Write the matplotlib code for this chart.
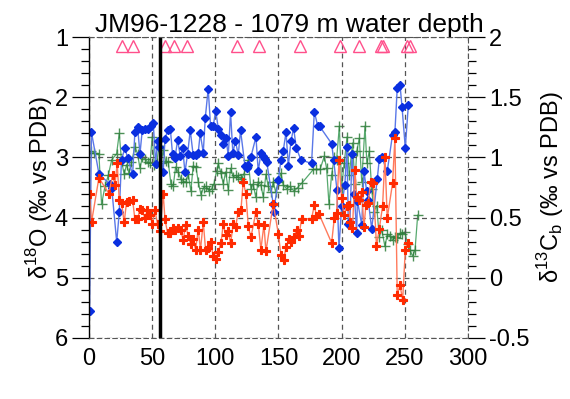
import matplotlib
matplotlib.use("Agg")
import matplotlib.pyplot as plt
from matplotlib.ticker import MultipleLocator

plt.rcParams['font.family'] = ['Liberation Sans', 'DejaVu Sans']
plt.rcParams['mathtext.fontset'] = 'custom'
plt.rcParams['mathtext.rm'] = 'Liberation Sans'

# blue: d18O (left axis)
blue_x = [0.5, 2, 8, 16.5, 18, 22, 24, 25.8, 28.5, 30.6, 34.6, 36.4, 38.5, 40.4, 42.2, 44.3, 47, 48.8,
          50.9, 52.8, 54.3, 55.7, 58.8, 60.2, 62.3, 64.4, 66.2, 68.1, 70.2, 72.3, 74.2, 76, 78.1, 80.2,
          82.5, 84.7, 86.5, 88.1, 90.5, 92.1, 94.4, 96.3, 98.4, 100.3, 102.4, 104.5, 106.3, 108.4, 110.3,
          112.1, 113.9, 116, 118.2, 120, 123.5, 124.8, 126.1, 128.2, 132.2, 134, 136.1, 138, 139.3, 140.7,
          145.9, 146.2, 149.9, 152, 153.8, 156, 157.8, 159.9, 162, 164.1, 167.8, 176.2, 178.4, 181, 182.5,
          192.1, 193.7, 196.3, 197.9, 200, 202.6, 204.2, 205.3, 206.6, 208.2, 210, 211.9, 212.5, 215.9,
          217.7, 219.8, 221, 223.8, 228.2, 229.8, 231.6, 236.1, 240.3, 242.2, 244, 246.2, 247.8, 250.4, 252.8]
blue_y = [5.55, 2.58, 3.28, 3.44, 3.5, 4.41, 3.91, 3.04, 2.84, 3.01, 3.28, 2.57, 2.49, 2.94, 2.55, 2.53, 2.52, 2.47,
          2.42, 3.11, 2.73, 2.82, 3.24, 2.69, 2.55, 2.52, 2.95, 3.01, 2.71, 2.98, 2.84, 3.25, 2.94, 2.55,
          2.96, 2.96, 2.92, 2.6, 2.92, 2.34, 1.86, 2.48, 2.48, 2.22, 2.52, 2.63, 2.77, 2.67, 2.97,
          2.25, 2.92, 2.73, 2.96, 2.55, 3.14, 3.18, 3.13, 2.99, 2.66, 3.23, 2.93, 2.98, 3.02, 3.07,
          3.78, 3.9, 3.37, 3.04, 2.89, 2.58, 3.14, 2.73, 2.51, 2.84, 3.04, 3.1, 2.24, 2.47, 2.48,
          2.77, 3.04, 3.54, 4.51, 3.81, 3.45, 2.82, 4.1, 4.08, 2.95, 3.6, 4.25, 3.72, 4.12,
          3.23, 3.56, 3.7, 4.19, 3.36, 3.03, 2.99, 3.23, 2.62, 2.57, 1.85, 1.79, 2.16, 2.84, 2.13]

# red: d18O (left axis)
red_x = [0.5, 2.1, 7.9, 15.8, 18.7, 20.6, 22.4, 24, 25.8, 27.9, 29.8, 32, 34.6, 36.4, 38.5, 40.4, 42.2,
         44.3, 46.2, 48.2, 50.1, 52.2, 54.3, 56.2, 58.8, 60.2, 62.3, 64.2, 66.2, 68.5, 70.7, 72.6, 74.6,
         76.5, 78.6, 80.7, 82.5, 84.4, 86.5, 88.3, 90.5, 92.3, 94.4, 96.3, 98.4, 100.3, 102.4, 104.5,
         106.3, 108.2, 110.3, 112.1, 114.2, 116.1, 118.2, 120.3, 122.1, 124.3, 126.1, 128.2, 132.2, 134,
         136.1, 138.5, 140.1, 145.9, 149.9, 152, 154.1, 156, 158.3, 160.2, 162.3, 164.3, 166.2, 168.3,
         176.2, 178.4, 180, 182.1, 192.1, 194.2, 196, 197.9, 200, 201.8, 204, 206, 206.6, 208.6, 210.6,
         211.9, 213.9, 215.9, 217.7, 219.2, 221.1, 223, 225, 227.6, 229.8, 232.4, 234.3, 236.1, 240.3,
         242.2, 244, 246.2, 248.3, 250.4, 252.2]
red_y = [3.61, 4.07, 3.34, 3.6, 3.29, 3.45, 3.1, 3.71, 3.75, 4.08, 3.74, 3.72, 3.71, 4.03, 4.03, 3.85, 3.88,
         4.01, 3.88, 3.95, 4.1, 3.88, 4.1, 4.23, 3.61, 4.03, 4.26, 4.26, 4.18, 4.2, 4.18, 4.2, 4.37,
         4.12, 4.31, 4.44, 4.36, 4.53, 4.2, 4.53, 4.07, 4.53, 4.5, 4.4, 4.64, 4.68, 4.57, 4.42,
         4.11, 4.29, 4.23, 4.43, 4.11, 4.15, 3.9, 3.88, 3.4, 3.61, 4.14, 4.33, 3.9, 4.1,
         4.53, 4.12, 4.56, 3.77, 4.27, 4.62, 4.71, 4.49, 4.36, 4.41, 4.32, 4.21, 4.31, 4.02,
         4.02, 3.79, 3.97, 3.94, 4.42, 4.01, 3.93, 3.04, 3.68, 3.96, 3.8, 3.79, 4.08, 4.18, 3.21,
         3.65, 3.7, 3.57, 4.16, 3.79, 3.76, 3.4, 3.42, 4.47, 4.19, 3.81, 2.99, 4.01, 3.43,
         2.68, 5.29, 5.12, 5.37, 4.54, 4.42]

# green: d13C benthic (right axis)
green_x = [0, 2, 4, 7.9, 10, 12.7, 15.3, 18, 21.9, 24, 25.8, 27.9, 29.8, 31.7, 33.7, 36.4, 38.5, 40.4,
           42.2, 44.3, 46.4, 48.3, 50.1, 51.7, 53.6, 55.4, 57, 58.8, 60.7, 62.8, 64.9, 66.7, 68.6, 70.7,
           72.8, 74.6, 76.8, 78.6, 80.7, 82.5, 84.7, 86.5, 88.7, 90.8, 92.9, 95, 97.1, 99, 101, 102.4,
           104.5, 106.3, 108.2, 110.3, 112.1, 114.2, 116.1, 118.2, 120.3, 122.5, 124.8, 126.1, 128.2, 130,
           132, 134, 136.1, 138, 140.1, 141.9, 144.1, 145.9, 147.8, 149.9, 152, 153.8, 156.5, 159.1,
           162.5, 165.1, 168.8, 177.6, 179.7, 182.9, 186.3, 188.1, 190, 192, 194.2, 196, 198.2, 200, 202,
           204.3, 206, 208.7, 210.5, 212, 214, 215.9, 218.5, 220, 221.9, 223.8, 225.6, 227.7, 229.8,
           231.7, 234.3, 236.1, 238, 240.3, 242, 244, 246.2, 248, 250.1, 252.2, 254.1, 256.2, 258.1, 260.2]
green_y = [1.04, 1.05, 1.04, 1.03, 0.61, 0.76, 0.85, 0.98, 1.03, 1.2, 0.97, 0.86, 0.94, 0.87, 0.96, 1.09, 1.03, 0.91,
           1.0, 0.99, 0.96, 0.95, 1.17, 0.94, 0.95, 1.09, 0.95, 1.06, 0.97, 0.96, 0.78, 0.76, 0.92, 0.88,
           0.82, 0.8, 0.8, 0.86, 0.72, 0.93, 0.92, 0.8, 0.69, 0.75, 0.76, 0.72, 0.74, 0.78, 0.89, 0.95,
           0.87, 0.78, 0.88, 0.73, 0.91, 0.84, 0.85, 0.84, 0.82, 0.86, 0.92, 0.98, 0.74, 0.78,
           0.67, 0.8, 0.77, 0.67, 0.86, 0.76, 0.71, 0.8, 0.71, 0.8, 0.87, 0.77, 0.74, 0.76,
           0.72, 0.75, 0.79, 0.9, 0.9, 0.9, 1.01, 0.91, 0.61, 0.85, 1.0, 0.98, 1.26, 0.75, 0.95,
           1.17, 0.85, 1.12, 0.78, 1.05, 1.16, 0.8, 1.26, 0.95, 1.05, 0.74, 0.55, 0.6, 0.34,
           0.4, 0.26, 0.36, 0.35, 0.31, 0.34, 0.33, 0.37, 0.36, 0.38, 0.28, 0.23, 0.18, 0.23, 0.52]

# triangles along the top
tri_x = [26, 35, 60, 67, 78, 117, 135, 167, 199, 214, 231, 233, 252, 254]
tri_y = [1.15] * len(tri_x)
event_x = 56.5

fig = plt.figure(figsize=(5.7, 3.99), dpi=100)
ax = fig.add_axes([0.156, 0.153, 0.665, 0.754])
ax2 = ax.twinx()
ax2.set_zorder(ax.get_zorder() - 1)
ax.patch.set_visible(False)

ax2.plot(green_x, green_y, color='#3a9a55', lw=0.9, alpha=0.85, marker='+', ms=6.5, mew=1.0, mec='#2e7d3a')
ax.plot(blue_x, blue_y, color='#5a78e8', lw=1.0, marker='D', ms=4.2, mfc='#0a2fe0', mec='#0a2fe0')
ax.plot(red_x, red_y, color='#ff7a5c', lw=1.0, marker='P', ms=6, mfc='#ff2a00', mec='#ff2a00', mew=0.8)
ax.plot(tri_x, tri_y, ls='none', marker='^', ms=8.5, mfc='none', mec='#ff4f8b', mew=1.0)
ax.axvline(event_x, color='black', lw=2.5)

ax.set_xlim(0, 300)
ax.set_ylim(6, 1)
ax2.set_ylim(-0.5, 2)

ax.xaxis.set_major_locator(MultipleLocator(50))
ax.yaxis.set_major_locator(MultipleLocator(1))
ax.yaxis.set_minor_locator(MultipleLocator(0.2))
ax2.yaxis.set_minor_locator(MultipleLocator(0.1))
ax2.set_yticks([-0.5, 0, 0.5, 1, 1.5, 2])
ax2.set_yticklabels(['-0.5', '0', '0.5', '1', '1.5', '2'])

ax.grid(True, ls=(0, (4, 3)), color='#555555', lw=0.9)
for s in ['top', 'right', 'bottom']:
    ax.spines[s].set_linestyle((0, (4, 3)))
    ax.spines[s].set_color('#555555')
    ax2.spines[s].set_visible(False)
ax.spines['left'].set_linewidth(1.0)
ax2.spines['left'].set_visible(False)

ax.tick_params(axis='y', which='major', direction='out', length=12, width=0.9, labelsize=17, pad=3)
ax.tick_params(axis='y', which='minor', direction='out', length=6, width=0.9)
ax.tick_params(axis='x', which='major', length=0, labelsize=17, pad=7)
ax2.tick_params(axis='y', which='major', direction='out', length=12, width=0.9, labelsize=17, pad=3)
ax2.tick_params(axis='y', which='minor', direction='out', length=6, width=0.9)

ax.set_ylabel('δ$^{18}$O (‰ vs PDB)', fontsize=17, labelpad=0)
ax2.set_ylabel('δ$^{13}$C$_{\\rm b}$ (‰ vs PDB)', fontsize=17, labelpad=4, rotation=90)
ax.set_title('JM96-1228 - 1079 m water depth', fontsize=19, pad=2, x=0.53)

fig.savefig('out.png', dpi=100)
